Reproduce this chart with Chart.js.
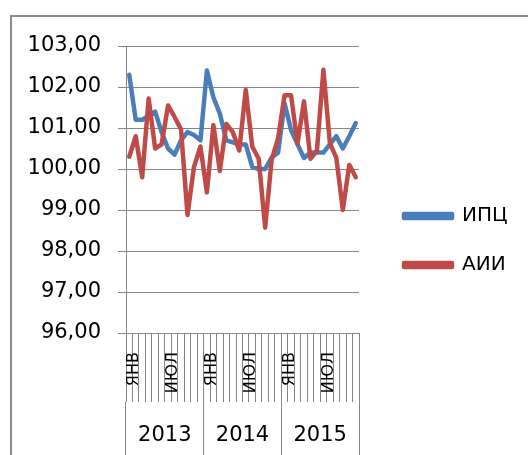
<!DOCTYPE html>
<html>
<head>
<meta charset="utf-8">
<script src="https://cdn.jsdelivr.net/npm/chart.js@4/dist/chart.umd.min.js"></script>
<style>
  body { margin: 0; background: #fff; }
  #wrap { position: relative; width: 528px; height: 455px; overflow: hidden; }
  #frame { position: absolute; left: 10px; top: 15px; width: 600px; height: 500px;
           border-left: 2px solid #8c8c8c; border-top: 2px solid #8c8c8c; }
  canvas { position: absolute; left: 0; top: 0; }
</style>
</head>
<body>
<div id="wrap">
  <div id="frame"></div>
  <canvas id="grafico" width="528" height="455"></canvas>
</div>
<script>
const meses = ['ЯНВ', 'ФЕВ', 'МАР', 'АПР', 'МАЙ', 'ИЮН', 'ИЮЛ', 'АВГ', 'СЕН', 'ОКТ', 'НОЯ', 'ДЕК'];
const anos = ['2013', '2014', '2015'];
const categorias = anos.flatMap(() => meses);

const ipc = [
  102.3, 101.2, 101.2, 101.3, 101.4, 100.9, 100.5, 100.35, 100.7, 100.9, 100.83, 100.7,
  102.4, 101.75, 101.35, 100.7, 100.65, 100.6, 100.6, 100.05, 100.0, 100.0, 100.28, 100.4,
  101.6, 100.95, 100.6, 100.27, 100.4, 100.4, 100.4, 100.6, 100.8, 100.5, 100.8, 101.12
];
const aii = [
  100.3, 100.8, 99.8, 101.72, 100.5, 100.6, 101.55, 101.27, 100.97, 98.88, 100.05, 100.55,
  99.43, 101.07, 99.95, 101.1, 100.9, 100.45, 101.93, 100.55, 100.25, 98.57, 100.22, 100.75,
  101.8, 101.8, 100.62, 101.65, 100.25, 100.45, 102.42, 100.63, 100.27, 99.0, 100.1, 99.8
];

const cinza = '#868686';
const fonte = 'DejaVu Sans';
const fonteLegenda = 20;
const larguraCaixa = 48;
const paddingLegenda = 29;

// largura da legenda, para deixar a linha começar em x=404
const medidor = document.createElement('canvas').getContext('2d');
medidor.font = fonteLegenda + 'px "' + fonte + '"';
const larguraTexto = Math.max(...['ИПЦ', 'АИИ'].map(t => medidor.measureText(t).width));
const larguraLegenda = paddingLegenda + larguraCaixa + fonteLegenda / 2 + larguraTexto + 10;
const esquerdaLegenda = 404 - paddingLegenda;
const direitaGrafico = 359;

const ctx = document.getElementById('grafico').getContext('2d');
new Chart(ctx, {
  type: 'line',
  data: {
    labels: categorias,
    datasets: [
      {
        label: 'ИПЦ',
        data: ipc,
        borderColor: '#4A7EBB',
        backgroundColor: '#4A7EBB',
        borderWidth: 4.5,
        pointRadius: 0,
        borderCapStyle: 'round',
        borderJoinStyle: 'round',
        order: 1
      },
      {
        label: 'АИИ',
        data: aii,
        borderColor: '#BE4B48',
        backgroundColor: '#BE4B48',
        borderWidth: 4.5,
        pointRadius: 0,
        borderCapStyle: 'round',
        borderJoinStyle: 'round',
        order: 0
      }
    ]
  },
  options: {
    responsive: false,
    animation: false,
    layout: {
      padding: { left: 0, top: 46, right: 528 - esquerdaLegenda - larguraLegenda, bottom: 0 }
    },
    plugins: {
      tooltip: { enabled: false },
      legend: {
        position: 'right',
        align: 'start',
        maxWidth: 300,
        title: { display: true, text: '', font: { size: 10 }, padding: { top: 119, bottom: 0 } },
        labels: {
          sort: (a, b) => a.datasetIndex - b.datasetIndex,
          boxWidth: larguraCaixa,
          boxHeight: 4,
          padding: paddingLegenda,
          color: '#000',
          font: { family: fonte, size: fonteLegenda }
        }
      }
    },
    scales: {
      y: {
        min: 96,
        max: 103,
        ticks: {
          stepSize: 1,
          padding: 17,
          color: '#000',
          font: { family: fonte, size: 21 },
          callback: v => v.toFixed(2).replace('.', ',')
        },
        grid: { color: cinza, tickLength: 8 },
        border: { color: cinza },
        afterFit: s => { s.width = 126; }
      },
      vazio: {
        position: 'right',
        display: true,
        ticks: { display: false },
        grid: { display: false },
        border: { display: false },
        afterFit: s => { s.width = esquerdaLegenda - direitaGrafico; }
      },
      x: {
        position: 'bottom',
        weight: 1,
        offset: true,
        grid: { offset: true, drawOnChartArea: false, tickLength: 69, color: cinza, tickColor: cinza },
        border: { color: cinza },
        ticks: {
          autoSkip: false,
          minRotation: 90,
          maxRotation: 90,
          padding: -50,
          labelOffset: 5,
          color: '#000',
          font: { family: fonte, size: 16 },
          callback: (v, i) => (i % 6 === 0 ? categorias[i] : '')
        },
        afterFit: s => { s.height = 69; }
      },
      anos: {
        type: 'category',
        labels: anos,
        position: 'bottom',
        weight: 2,
        offset: true,
        grid: { offset: true, drawOnChartArea: false, tickLength: 53, color: cinza, tickColor: cinza },
        border: { display: false, color: 'rgba(0,0,0,0)', width: 0 },
        ticks: {
          padding: -32,
          color: '#000',
          font: { family: fonte, size: 21 }
        },
        afterFit: s => { s.height = 53; }
      }
    }
  }
});
</script>
</body>
</html>
